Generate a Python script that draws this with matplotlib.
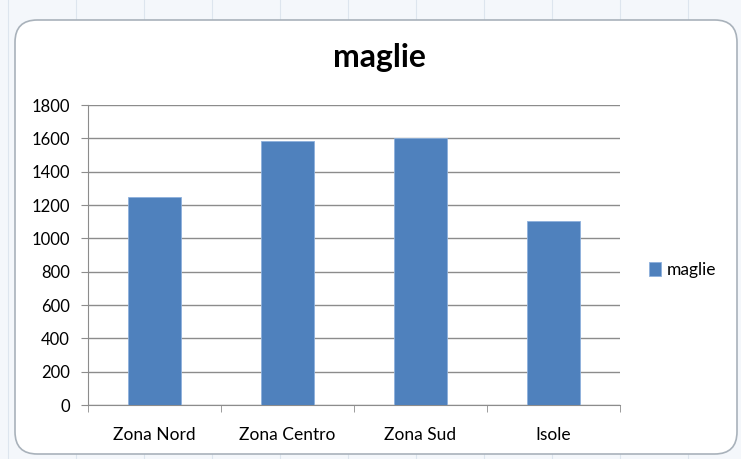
import matplotlib
matplotlib.use("Agg")
import matplotlib.pyplot as plt
import numpy as np
from matplotlib.patches import FancyBboxPatch, Rectangle

categories = ["Zona Nord", "Zona Centro", "Zona Sud", "Isole"]
values = [1250, 1585, 1600, 1105]
series_name = "maglie"
yticks = [0, 200, 400, 600, 800, 1000, 1200, 1400, 1600, 1800]

plt.rcParams['font.family'] = ['Lato', 'DejaVu Sans']

W, H = 741, 459
fig = plt.figure(figsize=(W / 100, H / 100), dpi=100)
fig.patch.set_facecolor("white")

# excel sheet behind the chart
fig.patches.append(Rectangle((0, 0), 1, 1, transform=fig.transFigure,
                             facecolor="#f4f7fb", edgecolor="none", zorder=-3))
for x in np.arange(8, W, 68):
    fig.lines.append(plt.Line2D([x / W, x / W], [0, 1], transform=fig.transFigure,
                                color="#dde5ee", lw=0.8, zorder=-2))
fig.patches.append(FancyBboxPatch((15 / W, 5 / H), (W - 19) / W, (H - 25) / H,
                                  boxstyle="round,pad=0,rounding_size=0.03",
                                  transform=fig.transFigure, facecolor="white",
                                  edgecolor="#a9b2bb", lw=1.2, zorder=-1,
                                  mutation_aspect=W / H))

ax = fig.add_axes([88 / W, 54 / H, 532 / W, 300 / H])
ax.set_facecolor("none")
x = np.arange(len(categories))
ax.bar(x, values, width=0.4, color="#4f81bd", edgecolor="#8db0dc", lw=0.6,
       label=series_name, zorder=3)

ax.set_xlim(-0.5, len(categories) - 0.5)
ax.set_ylim(0, 1800)
ax.set_yticks(yticks)
ax.set_yticklabels([str(v) for v in yticks], fontsize=12)
ax.yaxis.grid(True, color="#8c8c8c", lw=1.0, zorder=0)

ax.set_xticks(x)
ax.set_xticklabels(categories, fontsize=12.5)
ax.set_xticks(np.arange(-0.5, len(categories)), minor=True)
ax.tick_params(axis="x", which="major", length=0, pad=16)
ax.tick_params(axis="x", which="minor", length=5, color="#8c8c8c", direction="out")
ax.tick_params(axis="y", length=5, color="#8c8c8c", direction="out", pad=8)

for s in ["top", "right"]:
    ax.spines[s].set_visible(False)
ax.spines["left"].set_color("#8c8c8c")
ax.spines["bottom"].set_color("#8c8c8c")

fig.text(379 / W, 1 - 58 / H, "maglie", ha="center", va="center",
         fontsize=23, fontweight="bold")

leg = ax.legend(loc="center left", bbox_to_anchor=(1.025, 0.45), frameon=False,
                fontsize=12.5, handlelength=0.7, handleheight=0.9, handletextpad=0.3)

fig.savefig("out.png", dpi=100)
